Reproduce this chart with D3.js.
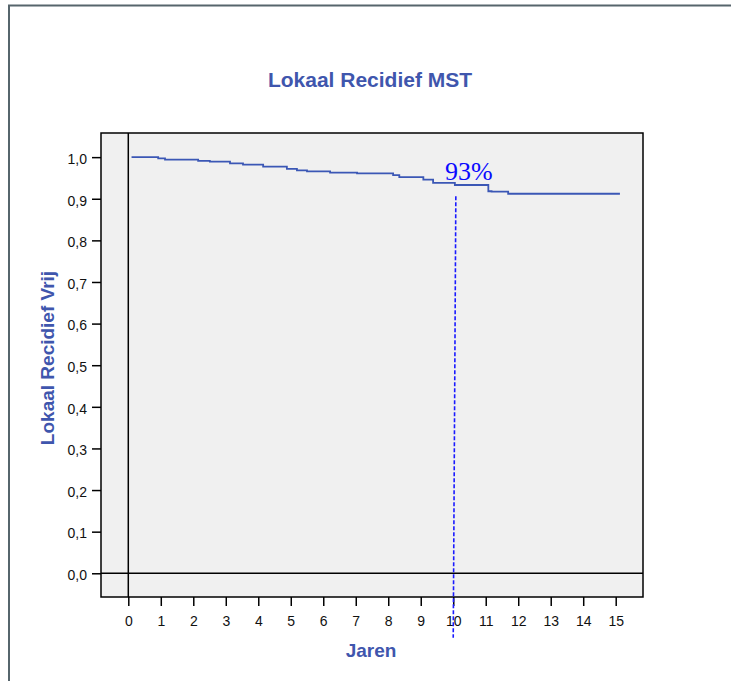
<!DOCTYPE html>
<html>
<head>
<meta charset="utf-8">
<script src="https://cdn.jsdelivr.net/npm/d3@7"></script>
<style>
  html, body { margin: 0; padding: 0; background: #fff; }
  svg { display: block; }
</style>
</head>
<body>
<div id="chart"></div>
<script>
// Kaplan-Meier step data: time (jaren) at which survival changes, and new survival value
const stepTimes = [0.1, 0.92, 1.13, 2.15, 2.51, 3.13, 3.53, 4.15, 4.88, 5.19, 5.5, 6.21, 7.04, 8.15, 8.34, 9.08, 9.38, 10.05, 11.08, 11.18, 11.69, 15.13];
const survival  = [1.0, 0.997, 0.994, 0.991, 0.989, 0.985, 0.982, 0.977, 0.972, 0.968, 0.966, 0.963, 0.961, 0.957, 0.952, 0.946, 0.938, 0.933, 0.918, 0.917, 0.912, 0.912];

const xTicks = d3.range(0, 16);
const yTicks = [0, 0.1, 0.2, 0.3, 0.4, 0.5, 0.6, 0.7, 0.8, 0.9, 1.0];

const markTime = 10;
const markLabel = '93%';

const titleText = 'Lokaal Recidief MST';
const xTitle = 'Jaren';
const yTitle = 'Lokaal Recidief Vrij';

const width = 731, height = 681;
const box = { left: 101, right: 643, top: 133, bottom: 597 };
const blue = '#3f56ad';
const sans = 'Arial, "Liberation Sans", sans-serif';

const svg = d3.select('#chart').append('svg')
  .attr('width', width)
  .attr('height', height);

// outer frame (only left and top edges are visible)
svg.append('rect')
  .attr('x', 9).attr('y', 5.5)
  .attr('width', width + 20).attr('height', height + 20)
  .style('fill', 'none')
  .style('stroke', '#56656c')
  .style('stroke-width', 2);

const x = d3.scaleLinear().domain([-0.84, 15.84]).range([box.left, box.right]);
const y = d3.scaleLinear().domain([-0.057, 1.058]).range([box.bottom, box.top]);

// plot area
svg.append('rect')
  .attr('x', box.left).attr('y', box.top)
  .attr('width', box.right - box.left).attr('height', box.bottom - box.top)
  .style('fill', '#f0f0f0');

// reference lines at x = 0 and y = 0
svg.append('line')
  .attr('x1', x(0)).attr('x2', x(0))
  .attr('y1', box.top).attr('y2', box.bottom)
  .style('stroke', '#000').style('stroke-width', 1.5);
svg.append('line')
  .attr('x1', box.left).attr('x2', box.right)
  .attr('y1', y(0)).attr('y2', y(0))
  .style('stroke', '#000').style('stroke-width', 1.5);

// axes
const fmt = d => d3.format('.1f')(d).replace('.', ',');

const xAxis = svg.append('g')
  .attr('transform', `translate(0,${box.bottom})`)
  .call(d3.axisBottom(x).tickValues(xTicks).tickSize(9).tickPadding(10).tickFormat(d3.format('d')));

const yAxis = svg.append('g')
  .attr('transform', `translate(${box.left},0)`)
  .call(d3.axisLeft(y).tickValues(yTicks).tickSize(9).tickPadding(5).tickFormat(fmt));

[xAxis, yAxis].forEach(a => {
  a.select('.domain').remove();
  a.selectAll('.tick line').style('stroke', '#000').style('stroke-width', 1.5);
  a.selectAll('.tick text')
    .style('font-family', sans)
    .style('font-size', '14px')
    .style('fill', '#111');
});
yAxis.selectAll('.tick text').attr('dy', '0.45em');

// plot border
svg.append('rect')
  .attr('x', box.left).attr('y', box.top)
  .attr('width', box.right - box.left).attr('height', box.bottom - box.top)
  .style('fill', 'none')
  .style('stroke', '#000')
  .style('stroke-width', 1.5);

// survival curve
const pts = stepTimes.map((t, i) => [t, survival[i]]);
const line = d3.line()
  .x(d => x(d[0]))
  .y(d => y(d[1]))
  .curve(d3.curveStepAfter);

svg.append('path')
  .datum(pts)
  .attr('d', line)
  .style('fill', 'none')
  .style('stroke', '#3b57b5')
  .style('stroke-width', 1.8);

// 10 year marker
svg.append('line')
  .attr('x1', x(markTime + 0.08)).attr('x2', x(markTime))
  .attr('y1', y(0.906)).attr('y2', y(-0.155))
  .style('stroke', '#1a1aff')
  .style('stroke-width', 1.6)
  .style('stroke-dasharray', '4,2');

svg.append('text')
  .attr('x', x(markTime + 0.48))
  .attr('y', y(0.945))
  .attr('text-anchor', 'middle')
  .style('font-family', '"Times New Roman", "Liberation Serif", serif')
  .style('font-size', '26px')
  .style('fill', '#0a0aff')
  .text(markLabel);

// titles
svg.append('text')
  .attr('x', 370).attr('y', 87)
  .attr('text-anchor', 'middle')
  .style('font-family', sans)
  .style('font-weight', 'bold')
  .style('font-size', '21px')
  .style('fill', blue)
  .text(titleText);

svg.append('text')
  .attr('x', 371).attr('y', 656.5)
  .attr('text-anchor', 'middle')
  .style('font-family', sans)
  .style('font-weight', 'bold')
  .style('font-size', '19px')
  .style('fill', blue)
  .text(xTitle);

svg.append('text')
  .attr('transform', 'translate(53.5,358) rotate(-90)')
  .attr('text-anchor', 'middle')
  .style('font-family', sans)
  .style('font-weight', 'bold')
  .style('font-size', '19px')
  .style('fill', blue)
  .text(yTitle);
</script>
</body>
</html>
